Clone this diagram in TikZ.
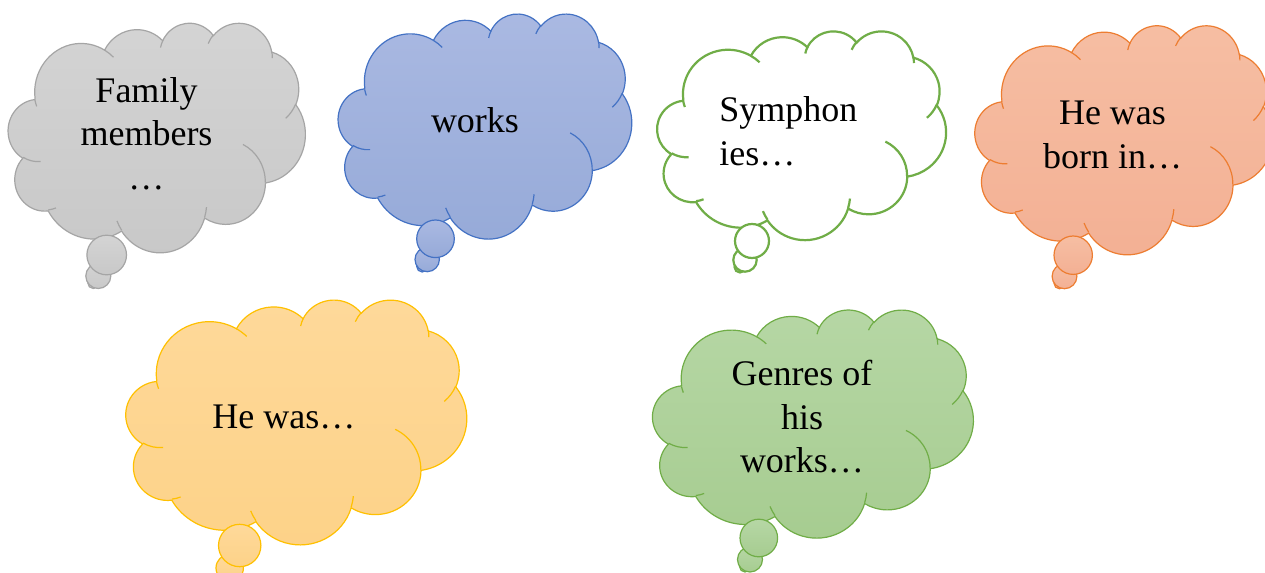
\documentclass[tikz,border=0pt]{standalone}
\usepackage{fontspec}
\setmainfont{Liberation Serif}
\definecolor{graytop}{HTML}{D4D4D4}
\definecolor{graybot}{HTML}{C8C8C8}
\definecolor{grayrim}{HTML}{A5A5A5}
\definecolor{bluetop}{HTML}{AAB9E2}
\definecolor{bluebot}{HTML}{96AAD8}
\definecolor{bluerim}{HTML}{4472C4}
\definecolor{orangetop}{HTML}{F6BEA3}
\definecolor{orangebot}{HTML}{F3B094}
\definecolor{orangerim}{HTML}{ED7D31}
\definecolor{yellowtop}{HTML}{FED99A}
\definecolor{yellowbot}{HTML}{FDD288}
\definecolor{yellowrim}{HTML}{FFC000}
\definecolor{greentop}{HTML}{B6D7A5}
\definecolor{greenbot}{HTML}{A6CC90}
\definecolor{greenrim}{HTML}{70AD47}
\tikzset{
  txt/.style={font=\fontsize{18}{21.8}\selectfont, align=center, anchor=base, inner sep=0pt},
  rim gray/.style={draw=grayrim, line width=0.6pt},
  bub gray/.style={rim gray, top color=graytop, bottom color=graybot},
  rim blue/.style={draw=bluerim, line width=0.6pt},
  bub blue/.style={rim blue, top color=bluetop, bottom color=bluebot},
  rim white/.style={draw=greenrim, line width=1.1pt},
  bub white/.style={rim white, fill=white},
  rim orange/.style={draw=orangerim, line width=0.6pt},
  bub orange/.style={rim orange, top color=orangetop, bottom color=orangebot},
  rim yellow/.style={draw=yellowrim, line width=0.6pt},
  bub yellow/.style={rim yellow, top color=yellowtop, bottom color=yellowbot},
  rim green/.style={draw=greenrim, line width=0.6pt},
  bub green/.style={rim green, top color=greentop, bottom color=greenbot}
}
% one lobe of the cloud: x radius, y radius, start and sweep (visual angles)
\newcommand\cloudarc[4]{arc[x radius=#1, y radius=#2,
  start angle={atan2((#1)*sin(#3),(#2)*cos(#3))},
  delta angle={mod(atan2((#1)*sin((#3)+(#4)),(#2)*cos((#3)+(#4)))-atan2((#1)*sin(#3),(#2)*cos(#3))+720,360)}]}
% cloud: left, top, width, height, colour
\newcommand\thoughtbubble[5]{%
  \begin{scope}[shift={(#1,#2)},xscale=#3/43.2,yscale=#4/43.2]
    \path[bub #5] (3.9,14.37) \cloudarc{6.753}{9.19}{-190.4875}{123.7805}
      \cloudarc{5.333}{7.267}{-144.1024}{89.9452}
      \cloudarc{4.365}{5.945}{-145.8079}{99.7230}
      \cloudarc{4.857}{6.595}{-130.9861}{117.2417}
      \cloudarc{5.333}{7.273}{-78.7089}{109.0269}
      \cloudarc{6.775}{9.22}{-46.2673}{130.2690}
      \cloudarc{5.785}{7.867}{0.6250}{114.0333}
      \cloudarc{6.752}{9.215}{22.4516}{115.1726}
      \cloudarc{7.72}{10.543}{66.2426}{75.7110}
      \cloudarc{4.36}{5.918}{-274.9421}{146.7356}
      \cloudarc{4.345}{5.945}{-246.8285}{152.5189} -- cycle;
    \path[rim #5] (4.693,26.177) \cloudarc{4.345}{5.945}{86.7420}{26.4295}
      (6.928,34.899) \cloudarc{4.36}{5.918}{73.6105}{11.4475}
      (16.478,39.09) \cloudarc{6.752}{9.215}{137.6242}{14.0811}
      (28.827,34.751) \cloudarc{6.752}{9.215}{6.4533}{15.9984}
      (34.129,22.954) \cloudarc{5.785}{7.867}{-70.2924}{70.9174}
      (41.798,15.354) \cloudarc{5.333}{7.273}{30.3180}{27.7515}
      (38.324,5.426) \cloudarc{4.857}{6.595}{-13.7443}{14.8589}
      (29.078,3.952) \cloudarc{4.857}{6.595}{-149.1815}{18.1954}
      (22.141,4.72) \cloudarc{4.365}{5.945}{-163.4943}{17.6864}
      (14.0,5.192) \cloudarc{6.753}{9.19}{-66.7070}{12.3194}
      (4.127,15.789) \cloudarc{6.753}{9.19}{153.8375}{9.7359};
  \end{scope}}
% tail: big circle x, y, r, small circle x, y, r, colour
\newcommand\bubbletail[7]{%
  \path[bub #7] (#4-5,#5+7) circle (5.5);
  \path[bub #7] (#4,#5) circle (#6);
  \path[bub #7] (#1,#2) circle (#3);}
\begin{document}
\begin{tikzpicture}[x=0.5pt,y=-0.5pt]
\clip (0,0) rectangle (1265,573);
\fill[white] (0,0) rectangle (1265,573);

\thoughtbubble{8.3}{22.5}{297}{229.5}{gray}
\bubbletail{106.7}{255}{19.8}{98.3}{276}{12.5}{gray}
\node[txt] (family) at (146.5,189.5) {Family\\members\\…};

\thoughtbubble{338.3}{13.3}{293.4}{225}{blue}
\bubbletail{435.5}{238.8}{18.8}{427.2}{259.5}{12.2}{blue}
\node[txt] (works) at (475,132.7) {works};

\thoughtbubble{657.3}{30.7}{288.7}{208.7}{white}
\bubbletail{752}{241}{17}{745}{260}{11.7}{white}
\node[txt,align=left,anchor=base west] (symph) at (719,165) {Symphon\\ies…};

\thoughtbubble{975}{25}{298}{229}{orange}
\bubbletail{1073.2}{255.2}{19.2}{1064.5}{276.3}{12.4}{orange}
\node[txt] (born) at (1112.5,168.3) {He was\\born in…};

\thoughtbubble{126}{299.3}{340.7}{244.7}{yellow}
\bubbletail{239.7}{545.5}{21.2}{229.7}{568}{13.7}{yellow}
\node[txt] (hewas) at (283.8,428.3) {He was…};

\thoughtbubble{652.7}{309.3}{320.6}{228}{green}
\bubbletail{758.8}{538}{18.8}{750}{559.5}{12.5}{green}
\node[txt] (genres) at (802,472.7) {Genres of\\his\\works…};
\end{tikzpicture}
\end{document}
